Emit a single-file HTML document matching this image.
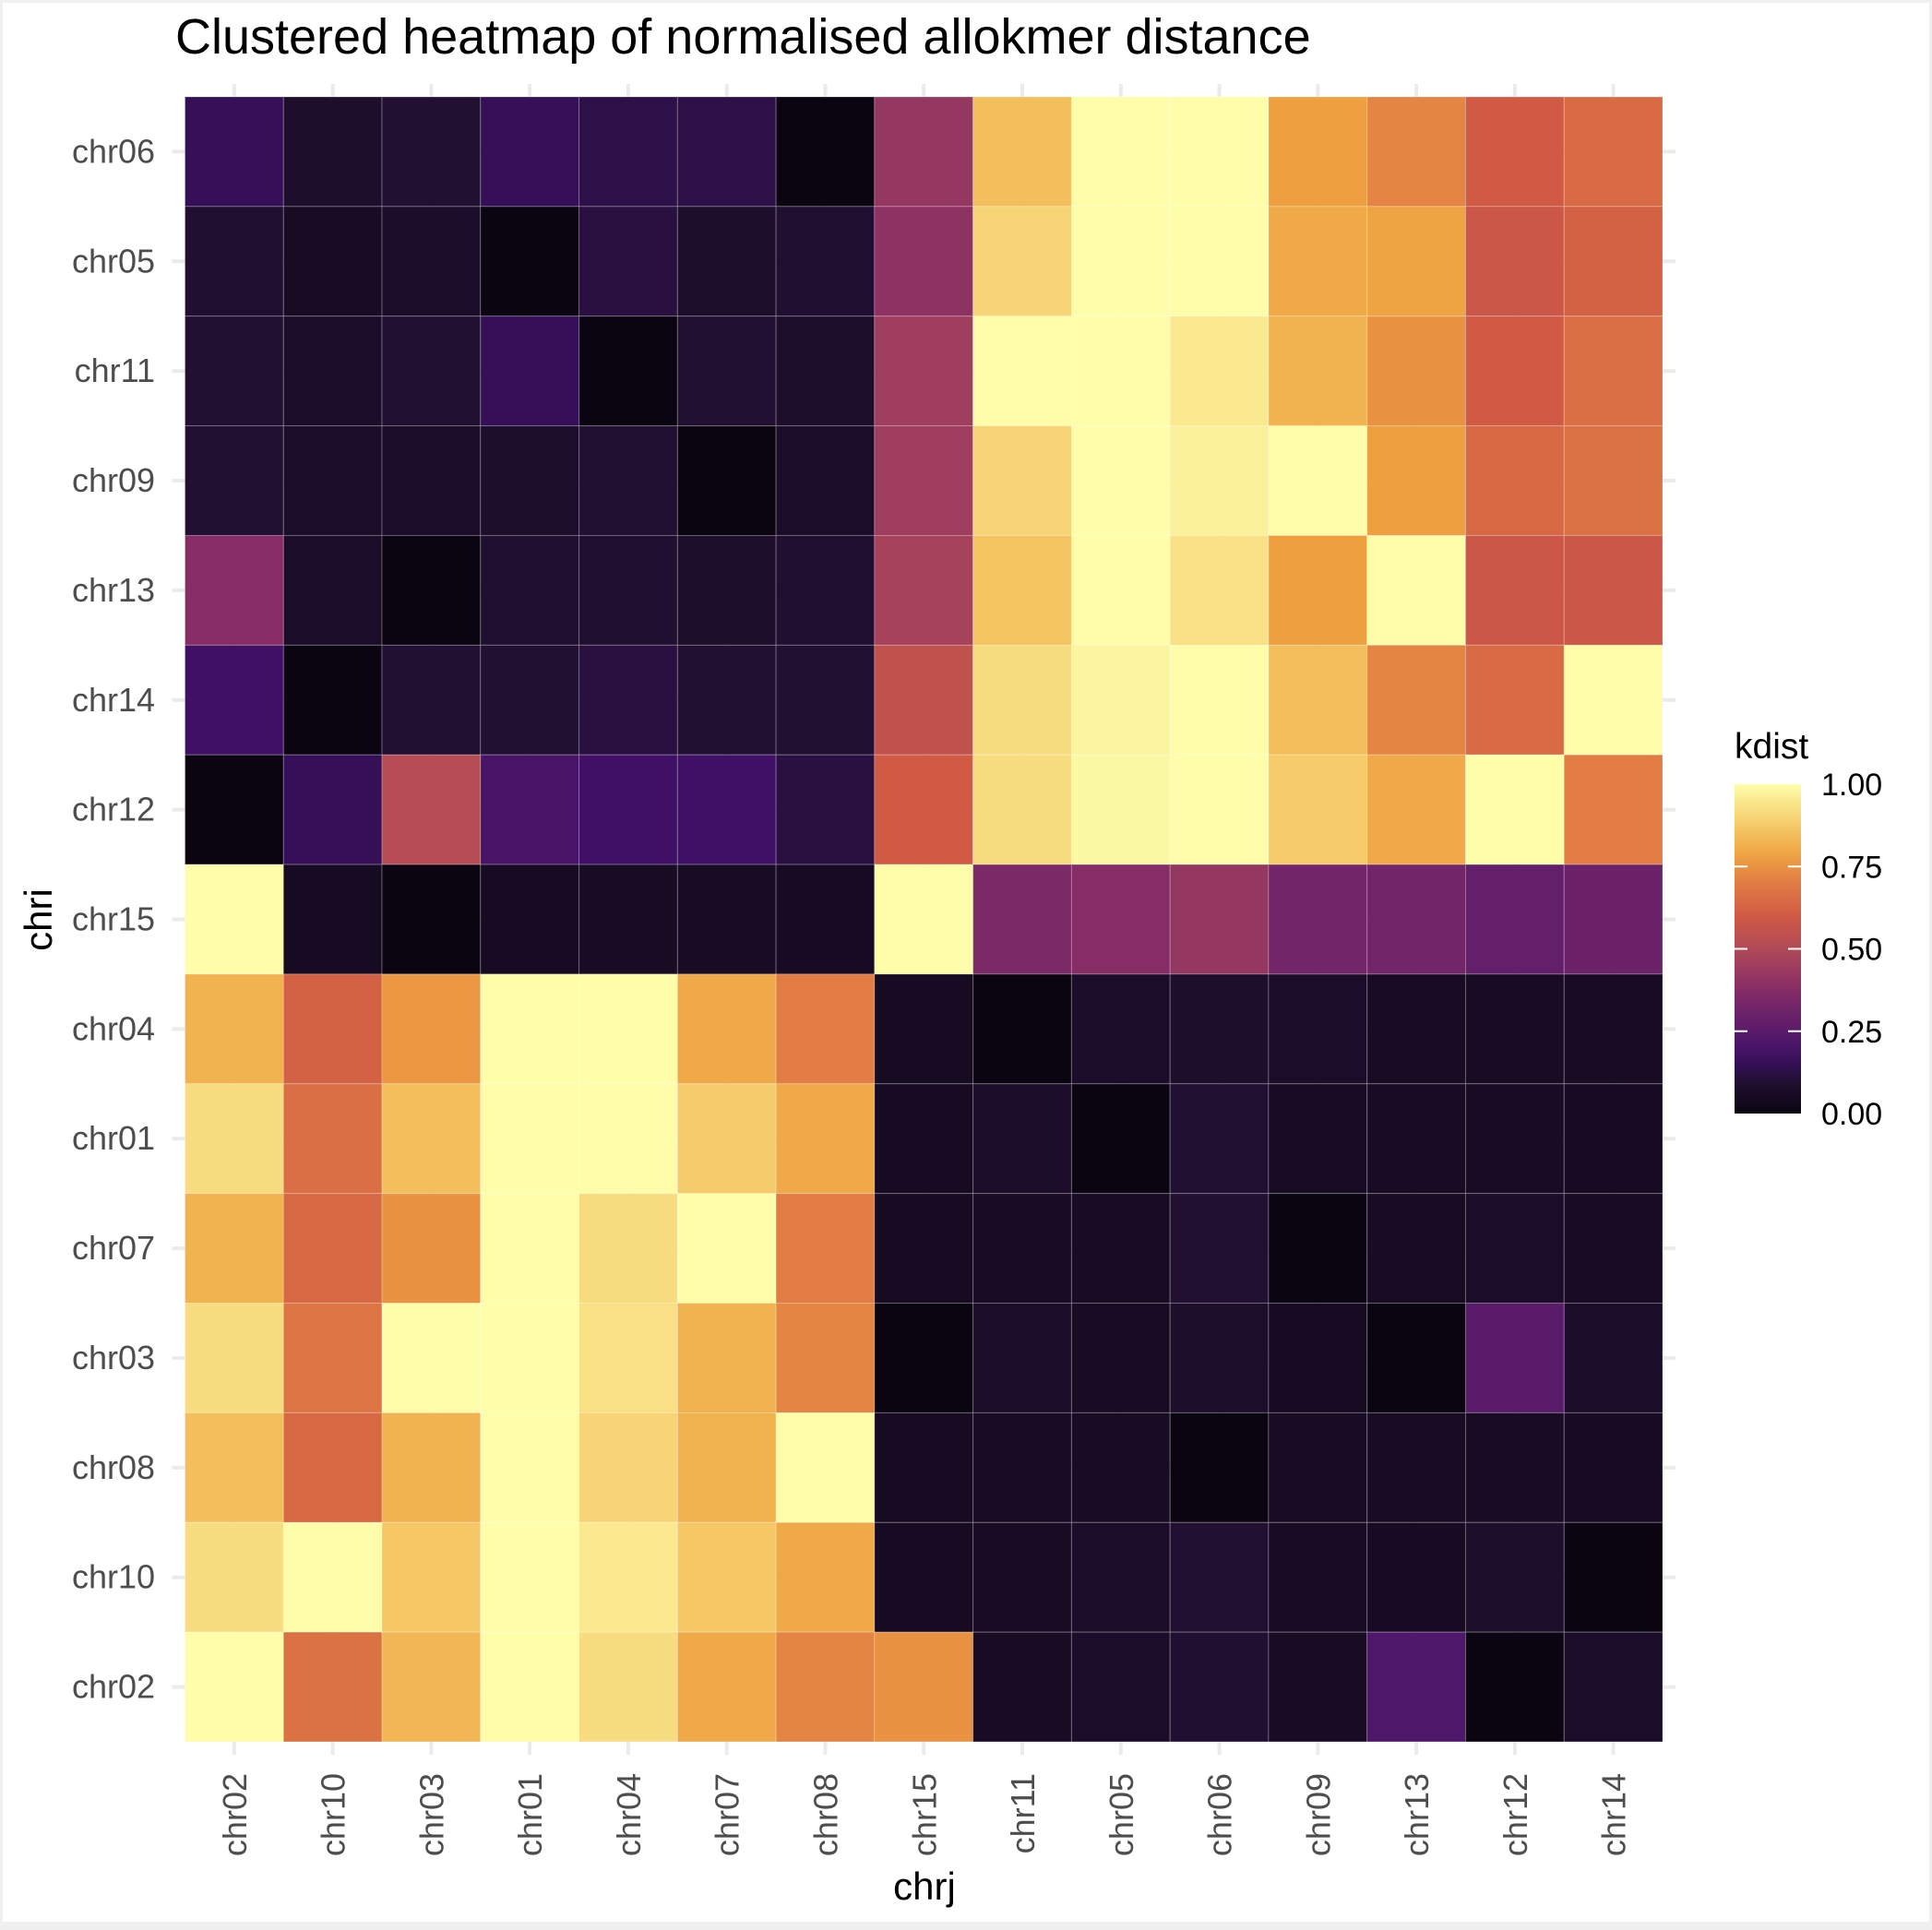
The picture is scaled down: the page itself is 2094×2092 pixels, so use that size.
<!DOCTYPE html>
<html><head><meta charset="utf-8"><style>
html,body{margin:0;padding:0;background:#fff;}
svg{display:block;font-family:"Liberation Sans",sans-serif;}
</style></head><body>
<svg id="chart" width="2094" height="2092" viewBox="0 0 2094 2092" xmlns="http://www.w3.org/2000/svg">
<defs>
<linearGradient id="grad" x1="0" y1="1" x2="0" y2="0"></linearGradient>
</defs>
<rect x="0" y="0" width="2094" height="2092" fill="#f0f0f0"/>
<rect x="3" y="3" width="2088" height="2080" fill="#fff"/>
<text x="190" y="58" font-size="54" fill="#000">Clustered heatmap of normalised allokmer distance</text>
<g id="grid"></g>
<g id="cells"></g>
<g id="ylab"></g>
<g id="xlab"></g>
<text x="0" y="0" font-size="42" fill="#000" text-anchor="middle" transform="translate(56,997) rotate(-90)">chri</text>
<text x="1002" y="2059" font-size="42" fill="#000" text-anchor="middle">chrj</text>
<g id="legend">
<text x="1880" y="822" font-size="39" fill="#000">kdist</text>
<rect x="1880" y="850" width="72" height="357" fill="url(#grad)"/>
</g>
</svg>
<script>
const rows = ["chr06","chr05","chr11","chr09","chr13","chr14","chr12","chr15","chr04","chr01","chr07","chr03","chr08","chr10","chr02"];
const cols = ["chr02","chr10","chr03","chr01","chr04","chr07","chr08","chr15","chr11","chr05","chr06","chr09","chr13","chr12","chr14"];
const values = [
[0.15,0.08,0.1,0.15,0.13,0.13,0.0,0.42,0.85,1,1,0.78,0.72,0.6,0.65],
[0.09,0.06,0.07,0.0,0.12,0.08,0.09,0.4,0.9,1,1,0.8,0.79,0.58,0.62],
[0.1,0.07,0.1,0.15,0.0,0.1,0.08,0.45,1,1,0.95,0.82,0.75,0.6,0.66],
[0.1,0.07,0.07,0.08,0.1,0.0,0.07,0.45,0.9,1,0.97,1,0.78,0.64,0.67],
[0.38,0.07,0.0,0.09,0.09,0.08,0.09,0.47,0.86,1,0.93,0.78,1,0.58,0.58],
[0.18,0.0,0.1,0.1,0.12,0.1,0.1,0.55,0.92,0.98,1,0.85,0.72,0.65,1],
[0.0,0.15,0.52,0.2,0.18,0.18,0.12,0.6,0.92,0.99,1,0.88,0.8,1,0.7],
[1,0.05,0.0,0.05,0.06,0.06,0.05,1,0.35,0.38,0.42,0.32,0.32,0.28,0.3],
[0.82,0.62,0.76,1,1,0.8,0.7,0.05,0.0,0.07,0.08,0.07,0.06,0.06,0.06],
[0.92,0.66,0.85,1,1,0.88,0.8,0.05,0.07,0.0,0.1,0.06,0.06,0.06,0.05],
[0.82,0.64,0.75,1,0.92,1,0.7,0.05,0.06,0.06,0.1,0.0,0.06,0.07,0.06],
[0.92,0.68,1,1,0.93,0.82,0.72,0.0,0.07,0.06,0.08,0.05,0.0,0.25,0.07],
[0.85,0.64,0.82,1,0.9,0.82,1,0.05,0.06,0.06,0.0,0.06,0.06,0.06,0.05],
[0.92,1,0.87,1,0.95,0.87,0.8,0.05,0.06,0.07,0.1,0.06,0.05,0.08,0.0],
[1,0.67,0.83,1,0.92,0.8,0.72,0.75,0.06,0.07,0.09,0.06,0.22,0.0,0.07]
];
const legendTicks = [0,0.25,0.5,0.75,1];
const legendLabels = ["0.00","0.25","0.50","0.75","1.00"];

const stops = [[0,"#0a0510"],[0.1,"#221033"],[0.17,"#3c0f65"],[0.25,"#5a1b6b"],[0.375,"#852c66"],[0.5,"#b04a58"],[0.6,"#d05a44"],[0.7,"#e07c44"],[0.78,"#eea040"],[0.87,"#f5c865"],[1,"#fdfdaa"]];
function hex(h){return [parseInt(h.slice(1,3),16),parseInt(h.slice(3,5),16),parseInt(h.slice(5,7),16)];}
function color(v){
  v=Math.max(0,Math.min(1,v));
  for(let i=1;i<stops.length;i++){
    if(v<=stops[i][0]){
      const t=(v-stops[i-1][0])/(stops[i][0]-stops[i-1][0]);
      const a=hex(stops[i-1][1]),b=hex(stops[i][1]);
      return "rgb("+a.map((x,k)=>Math.round(x+(b[k]-x)*t)).join(",")+")";
    }
  }
  return stops[stops.length-1][1];
}
const NS="http://www.w3.org/2000/svg";
const L=200.5,R=1802,T=105,B=1888;
const cw=(R-L)/cols.length, rh=(B-T)/rows.length;
function xs(j){return L+j*cw;}
function ys(i){return T+i*rh;}
function mk(tag,attrs,parent){const e=document.createElementNS(NS,tag);for(const k in attrs)e.setAttribute(k,attrs[k]);parent.appendChild(e);return e;}
const grid=document.getElementById('grid'),cells=document.getElementById('cells'),ylab=document.getElementById('ylab'),xlab=document.getElementById('xlab');
cols.forEach((c,j)=>{
  const x=xs(j)+cw/2;
  const g=mk('line',{x1:x,x2:x,y1:T-14,y2:B+14,stroke:"#ebebeb","stroke-width":4},grid);
  
  
  const t=mk('text',{x:0,y:0,"font-size":36,fill:"#4d4d4d","text-anchor":"end",transform:"translate("+(x+13)+","+(B+34)+") rotate(-90)"},xlab);
  t.textContent=c;
  
  
});
rows.forEach((r,i)=>{
  const y=ys(i)+rh/2;
  const g=mk('line',{x1:L-14,x2:R+14,y1:y,y2:y,stroke:"#ebebeb","stroke-width":4},grid);
  
  
  const t=mk('text',{x:168,y:y+12,"font-size":36,fill:"#4d4d4d","text-anchor":"end"},ylab);
  t.textContent=r;
  
  
  cols.forEach((c,j)=>{
    const e=mk('rect',{x:xs(j),y:ys(i),width:cw,height:rh,fill:color(values[i][j]),stroke:"rgba(255,255,255,0.25)","stroke-width":1},cells);
    
    
  });
});
const grad=document.getElementById('grad');
for(let k=0;k<=20;k++){mk('stop',{offset:k/20,"stop-color":color(k/20)},grad);}
const leg=document.getElementById('legend');
const cbT=850,cbB=1207;
legendTicks.forEach((v,k)=>{
  const y=cbB-(cbB-cbT)*v;
  if(v>0&&v<1){
    const a=mk('line',{x1:1880,x2:1894,y1:y,y2:y,stroke:"#fff","stroke-width":2},leg);
    
    
    const b=mk('line',{x1:1938,x2:1952,y1:y,y2:y,stroke:"#fff","stroke-width":2},leg);
    
    
  }
  const t=mk('text',{x:1974,y:y+12,"font-size":34,fill:"#000"},leg);
  t.textContent=legendLabels[k];
  
  
});
</script>
</body></html>
